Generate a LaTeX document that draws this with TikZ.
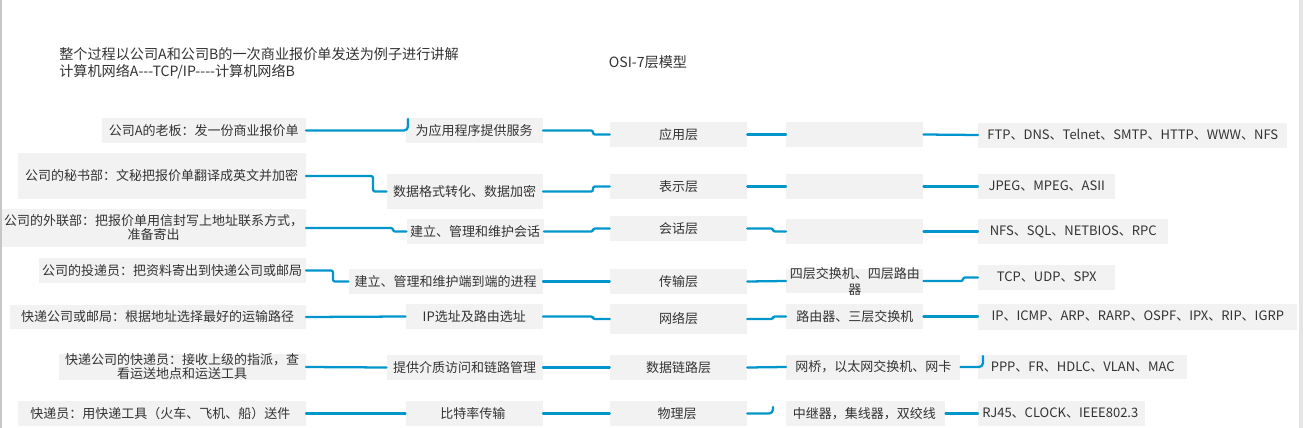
\documentclass[tikz,border=0pt]{standalone}
\usepackage{fontspec}
\setmainfont{Noto Sans CJK SC}
\usepackage{tikz}

\definecolor{linkblue}{RGB}{0,150,204}
\definecolor{boxgray}{RGB}{242,242,242}
\definecolor{textgray}{RGB}{51,51,51}

\begin{document}
\begin{tikzpicture}[
		x=0.75pt, y=-0.75pt,
		every node/.style={font=\fontsize{9.75pt}{10.5pt}\selectfont, text=textgray},
		box/.style={fill=boxgray, inner sep=0pt, align=center},
		link/.style={draw=linkblue, line width=1.7pt, rounded corners=1.5pt},
		hook/.style={link, rounded corners=3pt},
		line cap=round,
		line join=round
		]
		% =========================
		% Page frame
		% =========================
		\def\W{1303}
		\def\H{428}
		\fill[white] (0,0) rectangle (\W,\H);
		\useasboundingbox (0,0) rectangle (\W,\H);
		\fill[gray!45] (0,0) rectangle (2,\H);
		\fill[gray!20] (1299,0) rectangle (\W,\H);
		
		% --------------------------------
		% Titles
		% --------------------------------
		\node[anchor=west, align=left, inner sep=0pt, font=\fontsize{10.6pt}{12.75pt}\selectfont] (intro) at (59,63.5)
		{整个过程以公司A和公司B的一次商业报价单发送为例子进行讲解\\
			计算机网络A-\kern0pt-\kern0pt-TCP/IP-\kern0pt-\kern0pt-\kern0pt-计算机网络B};
		\node[font=\fontsize{10.6pt}{12pt}\selectfont] (osi) at (648,62) {OSI-7层模型};
		
		% --------------------------------
		% Column 1: the example in the company
		% --------------------------------
		\foreach \n/\y/\w/\h/\t in {
			c1/130.5/204/25/{公司A的老板：发一份商业报价单},
			c2/176/288/46/{公司的秘书部：文秘把报价单翻译成英文并加密},
			c3/228/304/38/{公司的外联部：把报价单用信封写上地址联系方式，\\准备寄出},
			c4/270.5/267/25/{公司的投递员：把资料寄出到快递公司或邮局},
			c5/317/296/24/{快递公司或邮局：根据地址选择最好的运输路径},
			c6/367/247/26/{快递公司的快递员：接收上级的指派，查\\看运送地点和运送工具},
			c7/413.5/288/25/{快递员：用快递工具（火车、飞机、船）送件}
		}
		{
			\node[box, anchor=east, minimum width=\w*0.75pt, minimum height=\h*0.75pt]
			(\n) at (306,\y) {\t};
		}
		
		% --------------------------------
		% Column 2: what each layer does
		% --------------------------------
		\foreach \n/\x/\y/\w/\h/\t in {
			m1/543/130.5/137/25/{为应用程序提供服务},
			m2/543/191.5/156/35/{数据格式转化、数据加密},
			m3/544/231.5/137/25/{建立、管理和维护会话},
			m4/543/281.5/194/25/{建立、管理和维护端到端的进程},
			m5/543/316.5/137/25/{IP选址及路由选址},
			m6/543/367.5/156/25/{提供介质访问和链路管理},
			m7/543/413.5/137/25/{比特率传输}
		}
		{
			\node[box, anchor=east, minimum width=\w*0.75pt, minimum height=\h*0.75pt]
			(\n) at (\x,\y) {\t};
		}
		
		% --------------------------------
		% Column 3: the seven layers
		% --------------------------------
		\foreach \n/\y/\h/\t in {
			L1/134.5/25/应用层,
			L2/186.5/25/表示层,
			L3/228.5/25/会话层,
			L4/281.5/25/传输层,
			L5/319/30/网络层,
			L6/367.5/25/数据链路层,
			L7/413.5/25/物理层
		}
		{
			\node[box, minimum width=102.75pt, minimum height=\h*0.75pt]
			(\n) at (678.5,\y) {\t};
		}
		
		% --------------------------------
		% Column 4: devices
		% --------------------------------
		\foreach \n/\y/\w/\t in {
			d1/134.5/137/{},
			d2/186.5/137/{},
			d3/231.5/137/{},
			d5/316.5/137/{路由器、三层交换机},
			d6/367/174/{网桥，以太网交换机、网卡},
			d7/413.5/159/{中继器，集线器，双绞线}
		}
		{
			\node[box, anchor=west, minimum width=\w*0.75pt, minimum height=18.75pt]
			(\n) at (786,\y) {\t};
		}
		\node[box, anchor=west, text width=102.75pt, text height=6.75pt, text depth=11.25pt,
		font=\fontsize{9.75pt}{12pt}\selectfont]
		(d4) at (786,281) {四层交换机、四层路由\\器};
		
		% --------------------------------
		% Column 5: protocols
		% --------------------------------
		\foreach \n/\y/\w/\h/\t in {
			p1/135/309/25/{FTP、DNS、Telnet、SMTP、HTTP、WWW、NFS},
			p2/186.5/137/25/{JPEG、MPEG、ASII},
			p3/231.5/190/25/{NFS、SQL、NETBIOS、RPC},
			p4/277.5/137/25/{TCP、UDP、SPX},
			p5/316.5/319/26/{IP、ICMP、ARP、RARP、OSPF、IPX、RIP、IGRP},
			p6/367/209/24/{PPP、FR、HDLC、VLAN、MAC},
			p7/413.5/167/25/{RJ45、CLOCK、IEEE802.3}
		}
		{
			\node[box, anchor=west, minimum width=\w*0.75pt, minimum height=\h*0.75pt]
			(\n) at (978,\y) {\t};
		}
		
		% --------------------------------
		% Connectors with a step
		% --------------------------------
		\foreach \a/\b/\x in {
			c2/m2/373, c3/m3/393, c4/m4/333,
			m1/L1/593, m2/L2/593, m3/L3/593, m5/L5/593,
			L3/d3/773, L5/d5/773,
			d4/p4/963
		}
		{
			\draw[link] (\a.east) -- (\x,0 |- \a.east) -- (\x,0 |- \b.west) -- (\b.west);
		}
		
		% straight ones
		\foreach \a/\b in {c5/m5, c6/m6, c7/m7, m4/L4, m6/L6, m7/L7,
			L1/d1, L2/d2, L4/d4, L6/d6, d1/p1, d2/p2, d3/p3, d5/p5, d7/p7}
		{
			\draw[link] (\a.east) -- (\b.west);
		}
		
		% hooks that turn up at the end
		\coordinate (hkA) at (408,119);
		\coordinate (hkB) at (773,407);
		\coordinate (hkC) at (983,356);
		\draw[hook] (c1.east) -| (hkA);
		\draw[hook] (L7.east) -| (hkB);
		\draw[hook] (d6.east) -| (hkC);
		
	\end{tikzpicture}
\end{document}
